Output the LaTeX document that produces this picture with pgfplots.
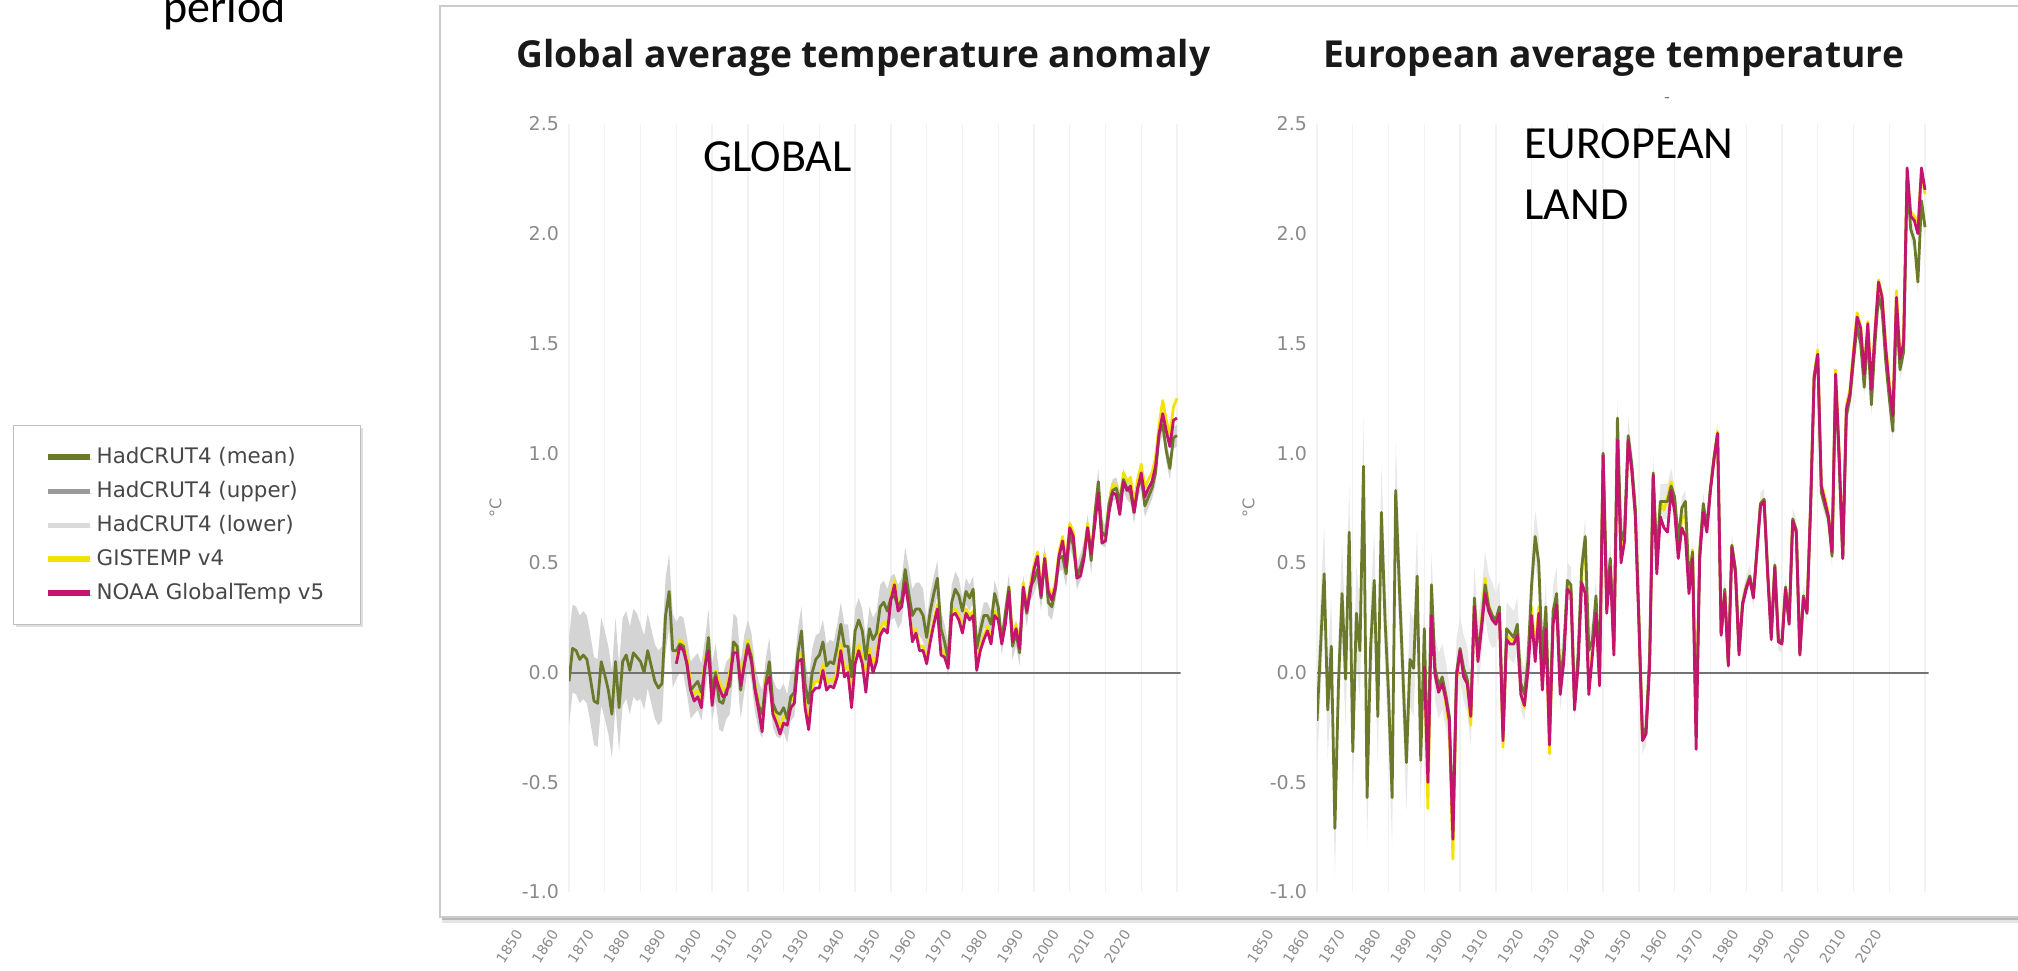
\documentclass[border=0pt]{standalone}
\usepackage{fontspec}
\setmainfont{DejaVu Sans}
\newfontfamily\titlefont{Open Sans}
\newfontfamily\calfont{Carlito}
\usepackage{pgfplots}
\pgfplotsset{compat=1.18}
\usepackage{pgfplotstable}
\usepgfplotslibrary{fillbetween}
\usetikzlibrary{shadows}

\definecolor{hadmean}{HTML}{6B7A2A}
\definecolor{hadup}{HTML}{9A9A9A}
\definecolor{hadlo}{HTML}{DADADA}
\definecolor{gis}{HTML}{F2E205}
\definecolor{noaa}{HTML}{C3156E}
\definecolor{ticktext}{HTML}{8A8A8A}

\pgfplotstableread{
year had up lo gis noaa
1850 -0.04 0.16 -0.24 nan nan
1851 0.11 0.31 -0.09 nan nan
1852 0.10 0.30 -0.10 nan nan
1853 0.06 0.26 -0.14 nan nan
1854 0.08 0.28 -0.12 nan nan
1855 0.06 0.26 -0.14 nan nan
1856 -0.03 0.17 -0.23 nan nan
1857 -0.13 0.07 -0.33 nan nan
1858 -0.14 0.06 -0.34 nan nan
1859 0.05 0.25 -0.15 nan nan
1860 -0.01 0.19 -0.21 nan nan
1861 -0.08 0.12 -0.28 nan nan
1862 -0.19 0.01 -0.39 nan nan
1863 0.05 0.25 -0.15 nan nan
1864 -0.16 0.04 -0.36 nan nan
1865 0.05 0.25 -0.15 nan nan
1866 0.08 0.28 -0.12 nan nan
1867 0.01 0.21 -0.19 nan nan
1868 0.09 0.29 -0.11 nan nan
1869 0.07 0.27 -0.13 nan nan
1870 0.05 0.22 -0.12 nan nan
1871 0.00 0.17 -0.17 nan nan
1872 0.10 0.27 -0.07 nan nan
1873 0.03 0.20 -0.14 nan nan
1874 -0.04 0.13 -0.21 nan nan
1875 -0.07 0.10 -0.24 nan nan
1876 -0.05 0.12 -0.22 nan nan
1877 0.26 0.43 0.09 nan nan
1878 0.37 0.54 0.20 nan nan
1879 0.10 0.27 -0.07 nan nan
1880 0.10 0.23 -0.03 0.07 0.04
1881 0.13 0.26 0.00 0.15 0.12
1882 0.12 0.25 -0.01 0.13 0.10
1883 0.03 0.16 -0.10 0.07 0.04
1884 -0.08 0.05 -0.21 -0.05 -0.08
1885 -0.06 0.07 -0.19 -0.10 -0.13
1886 -0.04 0.09 -0.17 -0.08 -0.11
1887 -0.09 0.04 -0.22 -0.13 -0.16
1888 0.02 0.15 -0.11 0.06 0.03
1889 0.16 0.29 0.03 0.13 0.10
1890 -0.09 0.04 -0.22 -0.12 -0.15
1891 0.00 0.13 -0.13 0.01 -0.02
1892 -0.13 0.00 -0.26 -0.04 -0.07
1893 -0.14 -0.01 -0.27 -0.08 -0.11
1894 -0.08 0.05 -0.21 -0.07 -0.10
1895 -0.06 0.07 -0.19 0.01 -0.02
1896 0.14 0.27 0.01 0.12 0.09
1897 0.12 0.25 -0.01 0.12 0.09
1898 -0.08 0.05 -0.21 -0.03 -0.06
1899 0.04 0.17 -0.09 0.06 0.03
1900 0.13 0.24 0.02 0.15 0.12
1901 0.07 0.18 -0.04 0.08 0.05
1902 -0.07 0.04 -0.18 -0.05 -0.08
1903 -0.15 -0.04 -0.26 -0.14 -0.17
1904 -0.19 -0.08 -0.30 -0.24 -0.27
1905 -0.05 0.06 -0.16 -0.03 -0.06
1906 0.05 0.16 -0.06 0.01 -0.02
1907 -0.14 -0.03 -0.25 -0.16 -0.19
1908 -0.18 -0.07 -0.29 -0.20 -0.23
1909 -0.19 -0.08 -0.30 -0.25 -0.28
1910 -0.16 -0.05 -0.27 -0.20 -0.23
1911 -0.21 -0.10 -0.32 -0.21 -0.24
1912 -0.11 0.00 -0.22 -0.13 -0.16
1913 -0.09 0.02 -0.20 -0.11 -0.14
1914 0.09 0.20 -0.02 0.08 0.05
1915 0.19 0.30 0.08 0.09 0.06
1916 -0.05 0.06 -0.16 -0.13 -0.16
1917 -0.14 -0.03 -0.25 -0.23 -0.26
1918 0.00 0.11 -0.11 -0.06 -0.09
1919 0.06 0.17 -0.05 -0.04 -0.07
1920 0.08 0.18 -0.02 -0.04 -0.07
1921 0.14 0.24 0.04 0.04 0.01
1922 0.03 0.13 -0.07 -0.05 -0.08
1923 0.05 0.15 -0.05 -0.03 -0.06
1924 0.04 0.14 -0.06 -0.04 -0.07
1925 0.12 0.22 0.02 0.01 -0.02
1926 0.22 0.32 0.12 0.13 0.10
1927 0.12 0.22 0.02 0.01 -0.02
1928 0.12 0.22 0.02 0.03 0.00
1929 -0.02 0.08 -0.12 -0.13 -0.16
1930 0.19 0.29 0.09 0.07 0.04
1931 0.24 0.34 0.14 0.13 0.10
1932 0.19 0.29 0.09 0.07 0.04
1933 0.06 0.16 -0.04 -0.06 -0.09
1934 0.20 0.30 0.10 0.11 0.08
1935 0.15 0.25 0.05 0.03 0.00
1936 0.18 0.28 0.08 0.08 0.05
1937 0.30 0.40 0.20 0.20 0.17
1938 0.32 0.42 0.22 0.23 0.20
1939 0.28 0.38 0.18 0.21 0.18
1940 0.34 0.44 0.24 0.36 0.33
1941 0.35 0.45 0.25 0.42 0.40
1942 0.30 0.40 0.20 0.30 0.28
1943 0.33 0.43 0.23 0.32 0.30
1944 0.47 0.57 0.37 0.43 0.41
1945 0.36 0.48 0.24 0.32 0.30
1946 0.26 0.38 0.14 0.16 0.14
1947 0.29 0.41 0.17 0.20 0.18
1948 0.29 0.41 0.17 0.12 0.10
1949 0.26 0.38 0.14 0.12 0.10
1950 0.16 0.24 0.08 0.06 0.04
1951 0.28 0.36 0.20 0.16 0.14
1952 0.36 0.44 0.28 0.24 0.22
1953 0.43 0.51 0.35 0.31 0.29
1954 0.20 0.28 0.12 0.10 0.08
1955 0.14 0.22 0.06 0.09 0.07
1956 0.06 0.14 -0.02 0.04 0.02
1957 0.32 0.40 0.24 0.28 0.26
1958 0.38 0.46 0.30 0.29 0.27
1959 0.35 0.43 0.27 0.26 0.24
1960 0.28 0.34 0.22 0.20 0.18
1961 0.37 0.43 0.31 0.29 0.27
1962 0.34 0.40 0.28 0.26 0.24
1963 0.38 0.44 0.32 0.28 0.26
1964 0.11 0.17 0.05 0.03 0.01
1965 0.19 0.25 0.13 0.12 0.10
1966 0.26 0.32 0.20 0.17 0.15
1967 0.26 0.32 0.20 0.21 0.19
1968 0.22 0.28 0.16 0.15 0.13
1969 0.36 0.42 0.30 0.28 0.26
1970 0.30 0.36 0.24 0.26 0.24
1971 0.14 0.20 0.08 0.15 0.13
1972 0.27 0.33 0.21 0.24 0.22
1973 0.39 0.45 0.33 0.39 0.37
1974 0.12 0.18 0.06 0.16 0.14
1975 0.18 0.24 0.12 0.22 0.20
1976 0.09 0.15 0.03 0.13 0.11
1977 0.38 0.44 0.32 0.41 0.39
1978 0.27 0.33 0.21 0.30 0.28
1979 0.39 0.45 0.33 0.39 0.37
1980 0.42 0.48 0.36 0.49 0.47
1981 0.47 0.53 0.41 0.55 0.53
1982 0.34 0.40 0.28 0.37 0.35
1983 0.52 0.58 0.46 0.54 0.52
1984 0.32 0.38 0.26 0.39 0.37
1985 0.30 0.36 0.24 0.35 0.33
1986 0.38 0.44 0.32 0.41 0.39
1987 0.52 0.58 0.46 0.55 0.53
1988 0.53 0.59 0.47 0.62 0.60
1989 0.45 0.51 0.39 0.50 0.48
1990 0.63 0.69 0.57 0.68 0.66
1991 0.58 0.64 0.52 0.64 0.62
1992 0.44 0.50 0.38 0.45 0.43
1993 0.48 0.54 0.42 0.46 0.44
1994 0.54 0.60 0.48 0.54 0.52
1995 0.66 0.72 0.60 0.68 0.66
1996 0.51 0.57 0.45 0.56 0.54
1997 0.72 0.78 0.66 0.69 0.67
1998 0.87 0.93 0.81 0.84 0.82
1999 0.64 0.70 0.58 0.61 0.59
2000 0.62 0.67 0.57 0.62 0.60
2001 0.77 0.82 0.72 0.77 0.73
2002 0.83 0.88 0.78 0.86 0.82
2003 0.84 0.89 0.79 0.85 0.81
2004 0.78 0.83 0.73 0.76 0.72
2005 0.88 0.93 0.83 0.91 0.87
2006 0.84 0.89 0.79 0.87 0.83
2007 0.82 0.87 0.77 0.89 0.85
2008 0.73 0.78 0.68 0.77 0.73
2009 0.84 0.89 0.79 0.88 0.84
2010 0.89 0.94 0.84 0.95 0.91
2011 0.76 0.81 0.71 0.84 0.80
2012 0.80 0.85 0.75 0.88 0.84
2013 0.84 0.89 0.79 0.91 0.87
2014 0.91 0.96 0.86 0.98 0.94
2015 1.09 1.14 1.04 1.13 1.09
2016 1.13 1.18 1.08 1.24 1.18
2017 1.01 1.06 0.96 1.15 1.10
2018 0.93 0.98 0.88 1.08 1.03
2019 1.07 1.12 1.02 1.21 1.15
2020 1.08 1.13 1.03 1.25 1.16
}\globaldata

\pgfplotstableread{
year had up lo gis noaa
1850 -0.22 0.00 -0.44 nan nan
1851 0.12 0.34 -0.10 nan nan
1852 0.45 0.67 0.23 nan nan
1853 -0.17 0.05 -0.39 nan nan
1854 0.12 0.34 -0.10 nan nan
1855 -0.71 -0.49 -0.93 nan nan
1856 -0.05 0.17 -0.27 nan nan
1857 0.36 0.58 0.14 nan nan
1858 -0.03 0.19 -0.25 nan nan
1859 0.64 0.86 0.42 nan nan
1860 -0.36 -0.14 -0.58 nan nan
1861 0.27 0.49 0.05 nan nan
1862 0.10 0.32 -0.12 nan nan
1863 0.94 1.16 0.72 nan nan
1864 -0.57 -0.35 -0.79 nan nan
1865 0.12 0.34 -0.10 nan nan
1866 0.42 0.64 0.20 nan nan
1867 -0.20 0.02 -0.42 nan nan
1868 0.73 0.95 0.51 nan nan
1869 0.25 0.47 0.03 nan nan
1870 -0.10 0.12 -0.32 nan nan
1871 -0.57 -0.35 -0.79 nan nan
1872 0.83 1.05 0.61 nan nan
1873 0.40 0.62 0.18 nan nan
1874 0.00 0.22 -0.22 nan nan
1875 -0.41 -0.19 -0.63 nan nan
1876 0.06 0.28 -0.16 nan nan
1877 0.02 0.24 -0.20 nan nan
1878 0.44 0.66 0.22 nan nan
1879 -0.40 -0.18 -0.62 nan nan
1880 0.20 0.35 0.05 0.05 0.03
1881 -0.45 -0.30 -0.60 -0.62 -0.50
1882 0.40 0.55 0.25 0.28 0.26
1883 0.02 0.17 -0.13 0.01 -0.01
1884 -0.06 0.09 -0.21 -0.07 -0.09
1885 -0.02 0.13 -0.17 -0.03 -0.05
1886 -0.10 0.05 -0.25 -0.14 -0.12
1887 -0.20 -0.05 -0.35 -0.26 -0.22
1888 -0.72 -0.57 -0.87 -0.85 -0.76
1889 0.00 0.15 -0.15 -0.04 -0.02
1890 0.11 0.26 -0.04 0.10 0.10
1891 0.02 0.17 -0.13 -0.01 -0.02
1892 -0.03 0.12 -0.18 -0.06 -0.05
1893 -0.18 -0.03 -0.33 -0.24 -0.20
1894 0.34 0.49 0.19 0.32 0.30
1895 0.08 0.23 -0.07 0.06 0.05
1896 0.22 0.37 0.07 0.24 0.20
1897 0.40 0.55 0.25 0.43 0.36
1898 0.30 0.45 0.15 0.31 0.28
1899 0.26 0.41 0.11 0.26 0.24
1900 0.24 0.36 0.12 0.24 0.22
1901 0.30 0.42 0.18 0.29 0.27
1902 -0.28 -0.16 -0.40 -0.34 -0.31
1903 0.20 0.32 0.08 0.17 0.15
1904 0.18 0.30 0.06 0.15 0.13
1905 0.16 0.28 0.04 0.15 0.13
1906 0.22 0.34 0.10 0.19 0.17
1907 -0.05 0.07 -0.17 -0.10 -0.10
1908 -0.10 0.02 -0.22 -0.16 -0.15
1909 0.06 0.18 -0.06 0.03 0.01
1910 0.40 0.52 0.28 0.30 0.26
1911 0.62 0.74 0.50 0.10 0.05
1912 0.50 0.62 0.38 0.30 0.27
1913 0.05 0.17 -0.07 -0.06 -0.08
1914 0.30 0.42 0.18 0.22 0.20
1915 -0.28 -0.16 -0.40 -0.37 -0.33
1916 0.28 0.40 0.16 0.24 0.22
1917 0.36 0.48 0.24 0.33 0.31
1918 -0.05 0.07 -0.17 -0.08 -0.10
1919 0.10 0.22 -0.02 0.07 0.05
1920 0.42 0.50 0.34 0.40 0.38
1921 0.40 0.48 0.32 0.38 0.36
1922 -0.14 -0.06 -0.22 -0.15 -0.17
1923 0.08 0.16 0.00 0.05 0.03
1924 0.48 0.56 0.40 0.45 0.41
1925 0.62 0.70 0.54 0.58 0.36
1926 0.10 0.18 0.02 -0.06 -0.10
1927 0.15 0.23 0.07 0.10 0.08
1928 0.35 0.43 0.27 0.30 0.27
1929 0.00 0.08 -0.08 -0.04 -0.06
1930 1.00 1.08 0.92 0.99 0.99
1931 0.35 0.43 0.27 0.30 0.27
1932 0.52 0.60 0.44 0.50 0.48
1933 0.12 0.20 0.04 0.10 0.08
1934 1.16 1.24 1.08 1.00 1.06
1935 0.60 0.68 0.52 0.55 0.50
1936 0.65 0.73 0.57 0.62 0.60
1937 1.08 1.16 1.00 1.05 1.06
1938 0.95 1.03 0.87 0.93 0.92
1939 0.75 0.83 0.67 0.72 0.71
1940 0.25 0.33 0.17 0.24 0.22
1941 -0.29 -0.21 -0.37 -0.30 -0.31
1942 -0.25 -0.17 -0.33 -0.27 -0.28
1943 0.08 0.16 0.00 0.05 0.03
1944 0.91 0.99 0.83 0.90 0.90
1945 0.52 0.60 0.44 0.50 0.45
1946 0.78 0.86 0.70 0.78 0.71
1947 0.78 0.86 0.70 0.74 0.66
1948 0.78 0.86 0.70 0.80 0.64
1949 0.85 0.93 0.77 0.87 0.83
1950 0.80 0.85 0.75 0.78 0.73
1951 0.60 0.65 0.55 0.58 0.52
1952 0.75 0.80 0.70 0.70 0.66
1953 0.78 0.83 0.73 0.72 0.62
1954 0.42 0.47 0.37 0.40 0.36
1955 0.55 0.60 0.50 0.56 0.52
1956 -0.28 -0.23 -0.33 -0.20 -0.35
1957 0.55 0.60 0.50 0.56 0.52
1958 0.77 0.82 0.72 0.75 0.73
1959 0.66 0.71 0.61 0.66 0.64
1960 0.84 0.89 0.79 0.84 0.83
1961 0.98 1.03 0.93 0.98 0.97
1962 1.09 1.14 1.04 1.10 1.09
1963 0.18 0.23 0.13 0.18 0.17
1964 0.38 0.43 0.33 0.37 0.36
1965 0.04 0.09 -0.01 0.04 0.03
1966 0.58 0.63 0.53 0.58 0.57
1967 0.47 0.52 0.42 0.47 0.45
1968 0.10 0.15 0.05 0.09 0.08
1969 0.32 0.37 0.27 0.32 0.31
1970 0.39 0.44 0.34 0.39 0.38
1971 0.44 0.49 0.39 0.44 0.43
1972 0.35 0.40 0.30 0.35 0.34
1973 0.56 0.61 0.51 0.56 0.55
1974 0.77 0.82 0.72 0.77 0.76
1975 0.79 0.84 0.74 0.79 0.78
1976 0.46 0.51 0.41 0.46 0.45
1977 0.17 0.22 0.12 0.18 0.15
1978 0.49 0.54 0.44 0.49 0.48
1979 0.15 0.20 0.10 0.15 0.14
1980 0.14 0.19 0.09 0.14 0.13
1981 0.39 0.44 0.34 0.39 0.38
1982 0.23 0.28 0.18 0.23 0.22
1983 0.70 0.75 0.65 0.70 0.69
1984 0.65 0.70 0.60 0.65 0.64
1985 0.09 0.14 0.04 0.09 0.08
1986 0.35 0.40 0.30 0.35 0.34
1987 0.28 0.33 0.23 0.28 0.27
1988 0.76 0.81 0.71 0.76 0.75
1989 1.35 1.40 1.30 1.36 1.34
1990 1.45 1.50 1.40 1.47 1.45
1991 0.82 0.87 0.77 0.86 0.85
1992 0.76 0.81 0.71 0.80 0.78
1993 0.70 0.75 0.65 0.72 0.71
1994 0.53 0.58 0.48 0.56 0.55
1995 1.33 1.38 1.28 1.38 1.36
1996 0.95 1.00 0.90 1.00 0.99
1997 0.52 0.57 0.47 0.53 0.52
1998 1.17 1.22 1.12 1.22 1.20
1999 1.25 1.30 1.20 1.29 1.27
2000 1.42 1.47 1.37 1.47 1.45
2001 1.58 1.63 1.53 1.64 1.62
2002 1.50 1.55 1.45 1.58 1.57
2003 1.30 1.35 1.25 1.38 1.36
2004 1.55 1.60 1.50 1.60 1.59
2005 1.22 1.27 1.17 1.31 1.29
2006 1.50 1.55 1.45 1.56 1.55
2007 1.72 1.77 1.67 1.79 1.78
2008 1.65 1.70 1.60 1.72 1.71
2009 1.42 1.47 1.37 1.50 1.48
2010 1.25 1.30 1.20 1.32 1.30
2011 1.10 1.15 1.05 1.19 1.17
2012 1.65 1.70 1.60 1.74 1.71
2013 1.38 1.43 1.33 1.45 1.43
2014 1.46 1.51 1.41 1.52 1.50
2015 2.25 2.30 2.20 2.28 2.30
2016 2.02 2.07 1.97 2.10 2.08
2017 1.97 2.02 1.92 2.08 2.06
2018 1.78 1.83 1.73 2.05 2.00
2019 2.15 2.20 2.10 2.28 2.30
2020 2.03 2.08 1.98 2.18 2.20
}\eurodata

\pgfplotsset{
  tempax/.style={
    scale only axis, width=305.8pt, height=384pt,
    xmin=1850, xmax=2021, ymin=-1, ymax=2.5,
    axis line style={draw=none},
    major tick length=0pt,
    xtick={1850,1860,...,2020},
    ytick={-1,-0.5,0,0.5,1,1.5,2,2.5},
    xmajorgrids,
    major grid style={draw=black!5, line width=0.7pt},
    /pgf/number format/assume math mode=true,
    yticklabel style={font=\fontsize{9.5}{10}\selectfont, text=ticktext, xshift=-1.5pt,
      /pgf/number format/fixed, /pgf/number format/fixed zerofill, /pgf/number format/precision=1},
    ylabel={°C},
    ylabel style={font=\fontsize{8}{9}\selectfont, text=ticktext, anchor=center},
    line join=round,
  }
}

\begin{document}
\begin{tikzpicture}
% chart frame (with a soft shadow at the bottom)
\draw[black!10, line width=2.2pt] (221pt,24.6pt) -- (1020pt,24.6pt);
\draw[black!28, line width=1.2pt] (221pt,25.6pt) -- (1020pt,25.6pt);
\draw[black!20, line width=1pt] (220pt,26.5pt) rectangle (1020pt,482pt);

% ---------------- Global ----------------
\begin{axis}[tempax, at={(284.5pt,39pt)}, anchor=south west,
  ylabel style={at={(axis description cs:-0.12,0.5)}},
  xticklabel style={xshift=-24.5pt, yshift=-19pt, rotate=57, anchor=east, inner sep=0.8pt,
     font=\fontsize{7}{8}\selectfont, text=ticktext, /pgf/number format/1000 sep={}},
  legend style={at={(axis description cs:-0.909,0.608)}, anchor=north west,
     draw=black!25, fill=white, font=\fontsize{10.7}{12}\selectfont, text=black!72,
     inner xsep=16pt, inner ysep=9pt, row sep=3.4pt,
     drop shadow={shadow xshift=1.2pt, shadow yshift=-1.2pt, opacity=0.25}},
  legend cell align=left,
  legend image code/.code={\draw[#1, line width=2.6pt] (0pt,0pt) -- (21pt,0pt);},
]
\addlegendimage{hadmean}\addlegendentry{HadCRUT4 (mean)}
\addlegendimage{hadup}\addlegendentry{HadCRUT4 (upper)}
\addlegendimage{hadlo}\addlegendentry{HadCRUT4 (lower)}
\addlegendimage{gis}\addlegendentry{GISTEMP v4}
\addlegendimage{noaa}\addlegendentry{NOAA GlobalTemp v5}

\addplot[name path=gup, draw=none, forget plot] table[x=year, y=up]{\globaldata};
\addplot[name path=glo, draw=none, forget plot] table[x=year, y=lo]{\globaldata};
\addplot[fill=black!17, draw=none, forget plot] fill between[of=gup and glo];
\addplot[black!55, line width=1pt, forget plot] coordinates {(1850,0) (2021,0)};
\addplot[gis, line width=1.4pt, forget plot] table[x=year, y=gis]{\globaldata};
\addplot[hadmean, line width=1.4pt, forget plot] table[x=year, y=had]{\globaldata};
\addplot[noaa, line width=1.4pt, forget plot] table[x=year, y=noaa]{\globaldata};
\end{axis}

% ---------------- Europe ----------------
\begin{axis}[tempax, at={(658.5pt,39pt)}, anchor=south west,
  ylabel style={at={(axis description cs:-0.112,0.5)}},
  xticklabel style={xshift=-23pt, yshift=-19pt, rotate=57, anchor=east, inner sep=0.8pt,
     font=\fontsize{7}{8}\selectfont, text=ticktext, /pgf/number format/1000 sep={}},
]
\addplot[name path=eup, draw=none, forget plot] table[x=year, y=up]{\eurodata};
\addplot[name path=elo, draw=none, forget plot] table[x=year, y=lo]{\eurodata};
\addplot[fill=black!9, draw=none, forget plot] fill between[of=eup and elo];
\addplot[black!55, line width=1pt, forget plot] coordinates {(1850,0) (2021,0)};
\addplot[gis, line width=1.4pt, forget plot] table[x=year, y=gis]{\eurodata};
\addplot[hadmean, line width=1.4pt, forget plot] table[x=year, y=had]{\eurodata};
\addplot[noaa, line width=1.4pt, forget plot] table[x=year, y=noaa]{\eurodata};
\end{axis}

% titles and annotations
\node[anchor=base, inner sep=0, text=black!90] at (431.75pt,451pt)
  {\titlefont\bfseries\fontsize{18.6}{22}\selectfont Global average temperature anomaly};
\node[anchor=base, inner sep=0, text=black!90] at (806.75pt,451pt)
  {\titlefont\bfseries\fontsize{18.6}{22}\selectfont European average temperature};
\node[text=black!55, inner sep=0] at (833.5pt,435pt) {\fontsize{8}{8}\selectfont -};

\node[anchor=base west, inner sep=0] at (351.5pt,399pt)
  {\calfont\fontsize{23}{28}\selectfont GLOBAL};
\node[anchor=base west, inner sep=0] at (762pt,405.5pt)
  {\calfont\fontsize{23}{28}\selectfont EUROPEAN};
\node[anchor=base west, inner sep=0] at (762pt,375pt)
  {\calfont\fontsize{23}{28}\selectfont LAND};
\node[anchor=base west, inner sep=0] at (81.5pt,473.5pt)
  {\calfont\fontsize{23}{28}\selectfont period};

\pgfresetboundingbox
\path[use as bounding box] (0,0) rectangle (1009pt,485pt);
\end{tikzpicture}
\end{document}
